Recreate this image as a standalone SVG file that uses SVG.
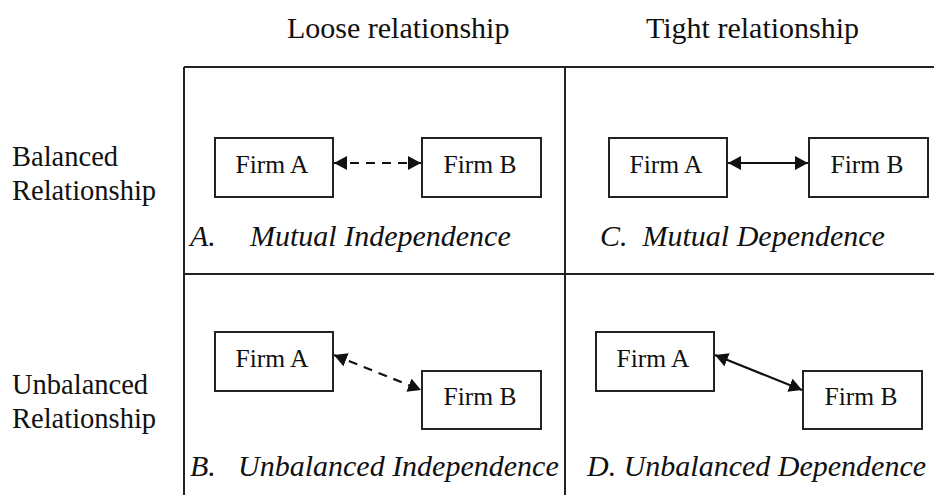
<svg xmlns="http://www.w3.org/2000/svg" width="934" height="495" viewBox="0 0 934 495">
<defs>
<style>
.box{fill:#fff;stroke:#222;stroke-width:2}
.grid{stroke:#222;stroke-width:2;fill:none}
.solid{stroke:#111;stroke-width:2.2;fill:none;marker-start:url(#ah);marker-end:url(#ah)}
.dash{stroke:#111;stroke-width:2.2;fill:none;stroke-dasharray:9 7;marker-start:url(#ah);marker-end:url(#ah)}
</style>
<marker id="ah" viewBox="0 0 13 14" refX="13" refY="7" markerWidth="13" markerHeight="14" markerUnits="userSpaceOnUse" orient="auto-start-reverse">
<path d="M0,0 L13,7 L0,14 z" fill="#111"/>
</marker>
</defs>
<g id="grid">
<path class="grid" d="M184,67 H934 M184,67 V495 M565,67 V495 M184,274 H934"/>
</g>
<g id="headers">
<text font-family="Liberation Serif" font-size="30" fill="#111" x="287" y="38">Loose relationship</text>
<text font-family="Liberation Serif" font-size="30" fill="#111" x="646" y="38">Tight relationship</text>
<text font-family="Liberation Serif" font-size="28.5" fill="#111" x="12" y="166">Balanced</text>
<text font-family="Liberation Serif" font-size="28.5" fill="#111" x="12" y="200">Relationship</text>
<text font-family="Liberation Serif" font-size="28.5" fill="#111" x="12" y="394">Unbalanced</text>
<text font-family="Liberation Serif" font-size="28.5" fill="#111" x="12" y="428">Relationship</text>
</g>
<g id="A-firmA"><rect class="box" x="215" y="138" width="118" height="59"/><text font-family="Liberation Serif" font-size="25.5" fill="#111" text-anchor="middle" x="272" y="173">Firm A</text></g>
<g id="A-firmB"><rect class="box" x="422" y="138" width="119" height="59"/><text font-family="Liberation Serif" font-size="25.5" fill="#111" text-anchor="middle" x="480" y="173">Firm B</text></g>
<g id="C-firmA"><rect class="box" x="609" y="138" width="118" height="59"/><text font-family="Liberation Serif" font-size="25.5" fill="#111" text-anchor="middle" x="666" y="173">Firm A</text></g>
<g id="C-firmB"><rect class="box" x="809" y="138" width="119" height="59"/><text font-family="Liberation Serif" font-size="25.5" fill="#111" text-anchor="middle" x="867" y="173">Firm B</text></g>
<g id="B-firmA"><rect class="box" x="215" y="332" width="118" height="59"/><text font-family="Liberation Serif" font-size="25.5" fill="#111" text-anchor="middle" x="272" y="367">Firm A</text></g>
<g id="B-firmB"><rect class="box" x="422" y="371" width="119" height="58"/><text font-family="Liberation Serif" font-size="25.5" fill="#111" text-anchor="middle" x="480" y="405">Firm B</text></g>
<g id="D-firmA"><rect class="box" x="596" y="332" width="118" height="59"/><text font-family="Liberation Serif" font-size="25.5" fill="#111" text-anchor="middle" x="653" y="367">Firm A</text></g>
<g id="D-firmB"><rect class="box" x="803" y="371" width="119" height="58"/><text font-family="Liberation Serif" font-size="25.5" fill="#111" text-anchor="middle" x="861" y="405">Firm B</text></g>
<g id="connectors">
<line class="dash" x1="334" y1="163" x2="421" y2="163"/>
<line class="solid" x1="728" y1="163" x2="808" y2="163"/>
<line class="dash" x1="334" y1="355" x2="421" y2="390"/>
<line class="solid" x1="715" y1="355" x2="802" y2="390"/>
</g>
<g id="captions">
<text font-family="Liberation Serif" font-size="30" font-style="italic" fill="#111" x="190" y="246">A.</text>
<text font-family="Liberation Serif" font-size="30" font-style="italic" fill="#111" x="250" y="246">Mutual Independence</text>
<text font-family="Liberation Serif" font-size="30" font-style="italic" fill="#111" x="600" y="246" xml:space="preserve">C.  Mutual Dependence</text>
<text font-family="Liberation Serif" font-size="30" font-style="italic" fill="#111" x="190" y="476">B.</text>
<text font-family="Liberation Serif" font-size="30" font-style="italic" fill="#111" x="238" y="476">Unbalanced Independence</text>
<text font-family="Liberation Serif" font-size="30" font-style="italic" fill="#111" x="587" y="476">D. Unbalanced Dependence</text>
</g>
</svg>
